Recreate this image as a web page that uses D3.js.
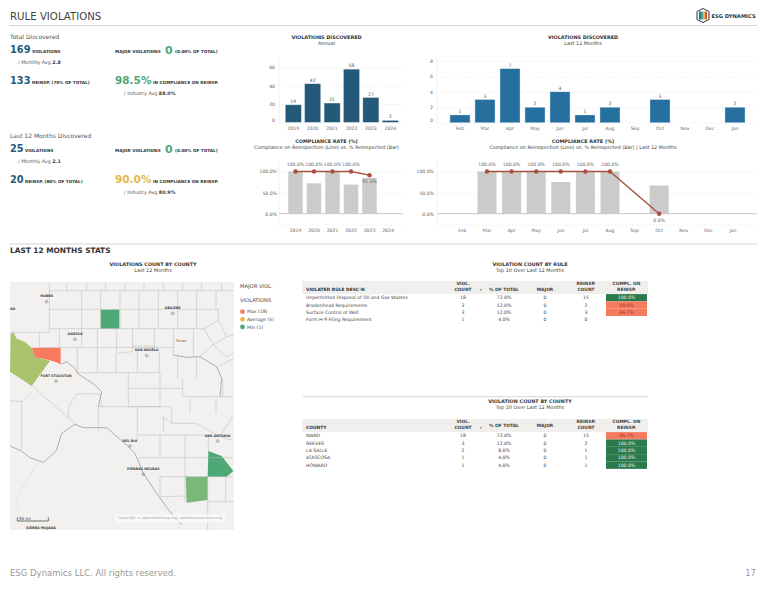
<!DOCTYPE html>
<html>
<head>
<meta charset="utf-8">
<script src="https://cdn.jsdelivr.net/npm/d3@7"></script>
<style>
html, body { margin: 0; padding: 0; background: #fff; }
svg { display: block; }
text { font-family: "DejaVu Sans", sans-serif; }
.axis path, .axis line { stroke: none; }
.axis text { fill: #666; font-size: 4.6px; }
.grid line { stroke: #e4e4e4; stroke-width: .6; stroke-dasharray: 1.5 1.5; }
.grid path { stroke: none; }
</style>
</head>
<body>
<script>
var years = [ "2019", "2020", "2021", "2022", "2023", "2024" ];
var yearViolations = [ 19, 42, 21, 58, 27, 2 ];
var yearReinspected = [ 100, 72, 100, 69, 85, 0 ];
var yearCompliance = [ 100, 100, 100, 100, 91.3, null ];

var months = [ "Feb", "Mar", "Apr", "May", "Jun", "Jul", "Aug", "Sep", "Oct", "Nov", "Dec", "Jan" ];
var monthViolations = [ 1, 3, 7, 2, 4, 1, 2, 0, 3, 0, 0, 2 ];
var monthReinspected = [ 0, 100, 100, 100, 75, 100, 100, 0, 67, 0, 0, 0 ];
var monthCompliance = [ null, 100, 100, 100, 100, 100, 100, null, 0, null, null, null ];

var tableCols = [ "VIOL.|COUNT", "% OF TOTAL", "MAJOR", "REINSP.|COUNT", "COMPL. ON|REINSP." ];
var ruleRows = [
	[ "Unpermitted Disposal of Oil and Gas Wastes", "18", "72.0%", "0", "15", "100.0%" ],
	[ "Bradenhead Requirements", "3", "12.0%", "0", "2", "50.0%" ],
	[ "Surface Control of Well", "3", "12.0%", "0", "3", "66.7%" ],
	[ "Form H-9 Filing Requirement", "1", "4.0%", "0", "0", "" ]
];
var countyRows = [
	[ "WARD", "18", "72.0%", "0", "15", "86.7%" ],
	[ "REEVES", "3", "12.0%", "0", "2", "100.0%" ],
	[ "LA SALLE", "2", "8.0%", "0", "1", "100.0%" ],
	[ "ATASCOSA", "1", "4.0%", "0", "1", "100.0%" ],
	[ "HOWARD", "1", "4.0%", "0", "1", "100.0%" ]
];

// map geometry, in map units (3 units to a pixel)
var countyFills = [
	{ name: "Reeves", color: "#a9c46c", pts: [ [40,277],[50,296],[75,306],[96,325],[105,352],[150,362],[95,438],[30,395],[32,283] ] },
	{ name: "Ward", color: "#f97b5f", pts: [ [95,323],[182,323],[182,373],[165,365],[150,361],[105,352] ] },
	{ name: "Howard", color: "#4fa977", pts: [ [302,209],[358,209],[358,266],[302,266] ] },
	{ name: "Atascosa", color: "#4fa977", pts: [ [625,633],[665,648],[700,693],[680,710],[623,710] ] },
	{ name: "La Salle", color: "#7ab77a", pts: [ [557,710],[623,710],[623,780],[560,788] ] }
];
var countyLines = [
	[[148,128],[148,277],[30,277]], [[148,152],[702,152]], [[148,208],[655,208]], [[148,266],[612,266]],
	[[200,128],[200,152]], [[260,128],[260,152]], [[317,128],[317,152]], [[375,128],[375,152]], [[432,128],[432,152]],
	[[490,128],[490,152]], [[548,128],[548,152]], [[605,128],[605,152]], [[665,128],[665,152]],
	[[245,152],[245,322]], [[302,152],[302,266]], [[360,152],[360,266]], [[417,152],[417,266]], [[475,152],[475,266]],
	[[533,152],[533,266]], [[590,152],[590,266]], [[648,152],[648,208]], [[655,208],[655,240],[612,266]],
	[[118,277],[118,323]], [[178,266],[178,323]], [[292,266],[292,322]], [[350,266],[350,335]], [[398,266],[398,320]],
	[[463,266],[463,335]], [[520,266],[520,345]], [[580,266],[580,350]], [[612,266],[640,315],[600,348]], [[655,240],[680,290],[640,315]],
	[[640,315],[680,350],[702,340]], [[655,380],[702,355]], [[680,290],[702,285]],
	[[118,323],[520,322]], [[232,323],[232,400]], [[292,322],[292,395]], [[348,340],[398,335],[398,318],[463,318]],
	[[348,340],[348,398]], [[412,335],[412,398]], [[478,335],[478,398]], [[533,345],[533,415]], [[590,350],[590,415]],
	[[232,398],[478,398]], [[385,398],[385,500]], [[480,398],[480,500]], [[548,415],[548,470]], [[668,415],[668,470]],
	[[385,445],[545,445]], [[548,470],[700,470]], [[570,475],[570,520]], [[648,475],[648,520]],
	[[385,500],[480,500]], [[205,500],[230,462],[300,462],[305,500]], [[205,500],[205,535]], [[295,500],[295,570]],
	[[30,482],[65,485],[65,630]], [[65,485],[95,455]], [[95,438],[230,553]], [[295,500],[515,500]], [[412,500],[412,600]],
	[[515,500],[515,550],[490,530],[490,575]], [[515,550],[590,550],[625,570]], [[415,585],[480,585],[480,655]],
	[[480,585],[625,585]], [[555,585],[555,785]], [[415,653],[700,653]], [[480,710],[700,710]], [[623,710],[623,870]],
	[[480,710],[480,770],[560,768]], [[625,585],[625,633]],
	[[677,710],[677,785]], [[623,785],[702,785]], [[625,570],[660,590],[695,600]], [[660,590],[700,525]]
];
var riverLines = [
	[[182,373],[200,365],[225,385],[232,400],[285,435],[305,455],[295,500]],
	[[520,345],[560,352],[600,350],[650,380],[665,415],[660,470]],
	[[30,618],[65,633],[90,653],[130,667],[150,650],[170,630],[185,580],[225,553],[250,563],[320,563],[345,585],[380,615],[405,640],[430,700],[470,760],[510,815],[545,855]]
];
var borderLines = [ [[40,277],[30,280]], [[120,660],[80,720],[50,780],[60,850]] ];
var mapPlaces = [
	{ name: "HOBBS", x: 140, y: 170 }, { name: "ABILENE", x: 518, y: 205 }, { name: "ODESSA", x: 225, y: 283 },
	{ name: "SAN ANGELO", x: 440, y: 332 }, { name: "FORT STOCKTON", x: 168, y: 408 }, { name: "DEL RIO", x: 390, y: 603 },
	{ name: "SAN ANTONIO", x: 653, y: 588 }, { name: "PIEDRAS NEGRAS", x: 430, y: 688 }
];
var legendItems = [
	{ label: "Max (18)", color: "#f97b5f" },
	{ label: "Average (5)", color: "#e5b84e" },
	{ label: "Min (1)", color: "#4fa977" }
];
var logoStripes = [ "#2b6f9d", "#4fa977", "#e5b84e", "#d9553f" ];

var svg = d3.select( "body" ).append( "svg" ).attr( "width", 768 ).attr( "height", 589 );

function label( g, str, x, y, size, opts ){
	opts = opts || {};
	return g.append( "text" )
		.attr( "x", x ).attr( "y", y )
		.attr( "font-size", size )
		.attr( "font-weight", opts.bold ? "bold" : null )
		.attr( "text-anchor", opts.anchor || "start" )
		.attr( "fill", opts.color || "#333" )
		.text( str );
}

function rule( y, x0, x1, h ){
	svg.append( "rect" ).attr( "x", x0 ).attr( "y", y ).attr( "width", x1 - x0 ).attr( "height", h ).attr( "fill", "#cfcfcf" );
}

label( svg, "RULE VIOLATIONS", 10, 20, 10.2, { color: "#444" } );
rule( 25, 9, 757, .9 );
rule( 243.5, 9, 757, .9 );
label( svg, "LAST 12 MONTHS STATS", 10, 252.5, 7.4, { bold: true, color: "#333" } );

// KPI block
function kpis( top, o ){
	var blue = "#25597a";
	label( svg, o.heading, 10, top, 6, { color: "#555" } );
	label( svg, o.count, 10, top + 14, 9.8, { bold: true, color: blue } );
	label( svg, "VIOLATIONS", o.tx, top + 13.5, 4.2, { bold: true } );
	svg.append( "text" ).attr( "x", 18 ).attr( "y", top + 25 ).attr( "font-size", 4.8 ).attr( "fill", "#555" )
		.text( "/ Monthly Avg " ).append( "tspan" ).attr( "font-weight", "bold" ).attr( "fill", "#333" ).text( o.avg );
	label( svg, o.reinsp, 10, top + 45, 9.8, { bold: true, color: blue } );
	label( svg, o.reinspText, o.tx, top + 44.5, 4.2, { bold: true } );
	label( svg, "MAJOR VIOLATIONS", 115, top + 13.5, 4.2, { bold: true } );
	label( svg, "0", 165, top + 14.5, 11, { bold: true, color: "#4fa977" } );
	label( svg, "(0.00% OF TOTAL)", 175, top + 13.5, 4.2, { bold: true } );
	label( svg, o.rate, 115, top + 45, 10.5, { bold: true, color: o.rateColor } );
	label( svg, "IN COMPLIANCE ON REINSP.", 153, top + 44.5, 4.2, { bold: true } );
	svg.append( "text" ).attr( "x", 124 ).attr( "y", top + 56 ).attr( "font-size", 4.8 ).attr( "fill", "#555" )
		.text( "/ Industry Avg " ).append( "tspan" ).attr( "font-weight", "bold" ).attr( "fill", "#333" ).text( o.industry );
}
kpis( 39, { heading: "Total Discovered", count: "169", tx: 32, avg: "2.8", reinsp: "133", reinspText: "REINSP. (79% OF TOTAL)", rate: "98.5%", rateColor: "#4fa977", industry: "88.0%" } );
kpis( 138, { heading: "Last 12 Months Discovered", count: "25", tx: 25, avg: "2.1", reinsp: "20", reinspText: "REINSP. (80% OF TOTAL)", rate: "90.0%", rateColor: "#e5b84e", industry: "80.9%" } );

function titles( cx, y, a, b ){
	label( svg, a, cx, y, 4.9, { bold: true, anchor: "middle" } );
	label( svg, b, cx, y + 6, 4.9, { anchor: "middle", color: "#444" } );
}

function band( cats, first, step, bw ){
	// point-like band scale placed from the first category centre
	return d3.scaleBand().domain( cats )
		.range( [ first - step / 2, first - step / 2 + step * cats.length ] )
		.paddingInner( 1 - bw / step ).paddingOuter( ( 1 - bw / step ) / 2 );
}

function countChart( o ){
	var x = band( o.cats, o.first, o.step, o.bw );
	var y = d3.scaleLinear().domain( [ 0, o.max ] ).range( [ o.y0, o.yMax ] );
	var g = svg.append( "g" );
	g.append( "g" ).attr( "class", "grid" ).attr( "transform", "translate(" + o.x0 + ",0)" )
		.call( d3.axisLeft( y ).tickValues( o.ticks ).tickSize( o.x0 - o.x1 ).tickFormat( "" ) );
	g.append( "line" ).attr( "x1", o.x0 ).attr( "x2", o.x0 ).attr( "y1", o.top ).attr( "y2", o.y0 + 1 ).attr( "stroke", "#e8e8e8" ).attr( "stroke-width", .6 );
	g.selectAll( ".bar" ).data( o.values ).join( "rect" )
		.attr( "x", ( d, i ) => x( o.cats[ i ] ) ).attr( "width", x.bandwidth() )
		.attr( "y", d => y( d ) ).attr( "height", d => y( 0 ) - y( d ) )
		.attr( "fill", o.color ).attr( "stroke", "#cddbe5" ).attr( "stroke-width", d => d ? .4 : 0 );
	g.selectAll( ".val" ).data( o.values ).join( "text" )
		.attr( "x", ( d, i ) => x( o.cats[ i ] ) + x.bandwidth() / 2 ).attr( "y", d => y( d ) - 2 )
		.attr( "text-anchor", "middle" ).attr( "font-size", 4.6 ).attr( "fill", "#555" )
		.text( d => d === 0 ? "" : d );
	g.append( "g" ).attr( "class", "axis" ).attr( "transform", "translate(" + ( o.x0 - 1 ) + ",0)" )
		.call( d3.axisLeft( y ).tickValues( o.ticks ).tickSize( 0 ).tickPadding( 3 ) )
		.selectAll( "text" ).filter( d => d === 0 ).attr( "dy", "-.25em" );
	g.append( "g" ).attr( "class", "axis" ).attr( "transform", "translate(0," + o.axisY + ")" )
		.call( d3.axisBottom( x ).tickSize( 0 ).tickPadding( 2 ) );
}

function rateChart( o ){
	var x = band( o.cats, o.first, o.step, o.bw );
	var y = d3.scaleLinear().domain( [ 0, 100 ] ).range( [ 213.7, 171.5 ] );
	var cx = c => x( c ) + x.bandwidth() / 2;
	var g = svg.append( "g" );
	g.append( "g" ).attr( "class", "grid" ).attr( "transform", "translate(" + o.x0 + ",0)" )
		.call( d3.axisLeft( y ).tickValues( [ 50, 100 ] ).tickSize( o.x0 - o.x1 ).tickFormat( "" ) );
	g.append( "line" ).attr( "x1", o.x0 ).attr( "x2", o.x0 ).attr( "y1", 160 ).attr( "y2", 225 ).attr( "stroke", "#e8e8e8" ).attr( "stroke-width", .6 );
	g.append( "line" ).attr( "x1", o.x0 ).attr( "x2", o.x1 ).attr( "y1", 225 ).attr( "y2", 225 ).attr( "stroke", "#e8e8e8" ).attr( "stroke-width", .6 ).attr( "stroke-dasharray", "1.5 1.5" );
	g.selectAll( ".bar" ).data( o.bars ).join( "rect" )
		.attr( "x", ( d, i ) => x( o.cats[ i ] ) ).attr( "width", x.bandwidth() )
		.attr( "y", d => y( d ) ).attr( "height", d => y( 0 ) - y( d ) )
		.attr( "fill", "#cbcbc9" );
	g.append( "line" ).attr( "x1", o.x0 ).attr( "x2", o.x1 ).attr( "y1", y( 0 ) ).attr( "y2", y( 0 ) ).attr( "stroke", "#c8c8c8" ).attr( "stroke-width", 1 );
	var pts = o.cats.map( ( c, i ) => ( { c: c, v: o.line[ i ] } ) ).filter( d => d.v !== null );
	g.append( "path" ).datum( pts )
		.attr( "fill", "none" ).attr( "stroke", "#a94f3f" ).attr( "stroke-width", 1.3 )
		.attr( "d", d3.line().x( d => cx( d.c ) ).y( d => y( d.v ) ) );
	g.selectAll( ".pt" ).data( pts ).join( "circle" )
		.attr( "cx", d => cx( d.c ) ).attr( "cy", d => y( d.v ) ).attr( "r", 2.2 ).attr( "fill", "#a94f3f" );
	g.selectAll( ".val" ).data( pts ).join( "text" )
		.attr( "x", d => cx( d.c ) ).attr( "y", d => d.v === 100 ? y( d.v ) - 6 : y( d.v ) + 8 )
		.attr( "text-anchor", "middle" ).attr( "font-size", 4.6 ).attr( "fill", "#666" )
		.text( d => d.v.toFixed( 1 ) + "%" );
	g.append( "g" ).attr( "class", "axis" ).attr( "transform", "translate(" + o.tickX + ",0)" )
		.call( d3.axisLeft( y ).tickValues( [ 0, 50, 100 ] ).tickSize( 0 ).tickPadding( 0 ).tickFormat( d => d.toFixed( 1 ) + "%" ) );
	g.append( "g" ).attr( "class", "axis" ).attr( "transform", "translate(0,226.5)" )
		.call( d3.axisBottom( x ).tickSize( 0 ).tickPadding( 2 ) );
}

titles( 326.5, 39, "VIOLATIONS DISCOVERED", "Annual" );
countChart( { cats: years, values: yearViolations, first: 293.3, step: 19.4, bw: 16, max: 60, ticks: [ 0, 20, 40, 60 ], y0: 122.3, yMax: 67.3, x0: 279, x1: 403, top: 56, axisY: 125, color: "#25597a" } );
titles( 326.5, 143, "COMPLIANCE RATE (%)", "Compliance on Reinspection (Line) vs. % Reinspected (Bar)" );
rateChart( { cats: years, bars: yearReinspected, line: yearCompliance, first: 295.5, step: 18.5, bw: 14.5, x0: 279, x1: 403, tickX: 277 } );

titles( 583, 39, "VIOLATIONS DISCOVERED", "Last 12 Months" );
countChart( { cats: months, values: monthViolations, first: 460, step: 25, bw: 20, max: 8, ticks: [ 0, 2, 4, 6, 8 ], y0: 122.7, yMax: 61, x0: 437, x1: 757, top: 56, axisY: 124.5, color: "#25709f" } );
titles( 583, 143, "COMPLIANCE RATE (%)", "Compliance on Reinspection (Line) vs. % Reinspected (Bar) | Last 12 Months" );
rateChart( { cats: months, bars: monthReinspected, line: monthCompliance, first: 462.4, step: 24.6, bw: 19, x0: 437, x1: 757, tickX: 434 } );

// map
titles( 153, 266, "VIOLATIONS COUNT BY COUNTY", "Last 12 Months" );
var mapX = d3.scaleLinear().domain( [ 0, 870 ] ).range( [ 0, 290 ] );
var mapY = d3.scaleLinear().domain( [ 0, 870 ] ).range( [ 240, 530 ] );
var mapLine = d3.line().x( d => mapX( d[ 0 ] ) ).y( d => mapY( d[ 1 ] ) );
svg.append( "clipPath" ).attr( "id", "mapClip" ).append( "rect" )
	.attr( "x", 10 ).attr( "y", 282 ).attr( "width", 224 ).attr( "height", 248 );
var map = svg.append( "g" ).attr( "clip-path", "url(#mapClip)" );
map.append( "rect" ).attr( "x", 10 ).attr( "y", 282 ).attr( "width", 224 ).attr( "height", 248 ).attr( "fill", "#f2f1ef" );
map.selectAll( ".fill" ).data( countyFills ).join( "path" )
	.attr( "d", d => mapLine( d.pts ) + "Z" ).attr( "fill", d => d.color );
map.selectAll( ".county" ).data( countyLines ).join( "path" )
	.attr( "d", mapLine ).attr( "fill", "none" ).attr( "stroke", "#b8b8b8" ).attr( "stroke-width", .5 );
map.selectAll( ".river" ).data( riverLines ).join( "path" )
	.attr( "d", mapLine ).attr( "fill", "none" ).attr( "stroke", "#909090" ).attr( "stroke-width", .7 );
map.selectAll( ".border" ).data( borderLines ).join( "path" )
	.attr( "d", mapLine ).attr( "fill", "none" ).attr( "stroke", "#bbb" ).attr( "stroke-width", .5 ).attr( "stroke-dasharray", "1 1" );
mapPlaces.forEach( p => {
	label( map, p.name, mapX( p.x ), mapY( p.y ) + .8, 3.3, { bold: true, anchor: "middle", color: "#444" } );
	map.append( "circle" ).attr( "cx", mapX( p.x ) ).attr( "cy", mapY( p.y + 15 ) ).attr( "r", 1.4 ).attr( "fill", "none" ).attr( "stroke", "#666" ).attr( "stroke-width", .4 );
	map.append( "circle" ).attr( "cx", mapX( p.x ) ).attr( "cy", mapY( p.y + 15 ) ).attr( "r", .5 ).attr( "fill", "#666" );
} );
label( map, "AD", mapX( 38 ), mapY( 207 ) + 1, 3.3, { bold: true, anchor: "middle", color: "#444" } );
label( map, "Texas", mapX( 543 ), mapY( 300 ) + 1.5, 3.8, { anchor: "middle", color: "#8a5a2b" } );
label( map, "SIERRA MOJADA", mapX( 123 ), mapY( 865 ) + 1, 3.3, { bold: true, anchor: "middle", color: "#444" } );
map.append( "rect" ).attr( "x", mapX( 345 ) ).attr( "y", mapY( 823 ) ).attr( "width", 110 ).attr( "height", 8 ).attr( "fill", "#fafafa" ).attr( "opacity", .8 );
label( map, "Copyright \u00a9 openstreetmap.org, opendatacommons.org", mapX( 510 ), mapY( 838 ), 3.7, { anchor: "middle", color: "#aaa" } );
map.append( "path" ).attr( "d", mapLine( [ [52,832],[52,843],[145,843],[145,832] ] ) ).attr( "fill", "none" ).attr( "stroke", "#333" ).attr( "stroke-width", .7 );
label( map, "50 mi", mapX( 58 ), mapY( 840 ), 4, { color: "#333" } );

// legend
label( svg, "MAJOR VIOL.", 240, 288, 5.2, { color: "#444" } );
label( svg, "VIOLATIONS", 240, 302, 5.2, { color: "#444" } );
legendItems.forEach( ( d, i ) => {
	svg.append( "circle" ).attr( "cx", 242.5 ).attr( "cy", 311.7 + i * 7.6 ).attr( "r", 2.4 ).attr( "fill", d.color );
	label( svg, d.label, 247, 313.4 + i * 7.6, 4.6, { color: "#444" } );
} );

// tables
var colX = [ 463, 504, 545, 586, 626.5 ];
function table( o ){
	svg.append( "rect" ).attr( "x", 302 ).attr( "y", o.bgTop ).attr( "width", 346 ).attr( "height", 13 ).attr( "fill", "#f0efed" );
	label( svg, o.head, 306, o.bgTop + 9.5, 4.4, { bold: true } );
	tableCols.forEach( ( c, i ) => {
		var parts = c.split( "|" );
		parts.forEach( ( p, j ) => label( svg, p, colX[ i ], o.bgTop + ( parts.length > 1 ? 4 + j * 5.6 : o.oneLine ), 4.4, { bold: true, anchor: "middle", color: "#444" } ) );
	} );
	label( svg, "\u25be", 481, o.bgTop + 9.8, 3.6, { anchor: "middle", color: "#555" } );
	o.rows.forEach( ( r, i ) => {
		var y = o.rowY + i * o.rowStep;
		if ( r[ 5 ] ) {
			svg.append( "rect" ).attr( "x", 606 ).attr( "y", y - 3.7 ).attr( "width", 41 ).attr( "height", o.rowStep )
				.attr( "fill", r[ 5 ] === "100.0%" ? "#2a7a4e" : "#f97b5f" );
		}
		label( svg, r[ 0 ], 306, y + 1.6, 4.6, { color: "#444" } );
		colX.forEach( ( x, j ) => label( svg, r[ j + 1 ], x, y + 1.6, 4.6, { anchor: "middle", color: j === 4 ? ( r[ 5 ] === "100.0%" ? "#e8f0ea" : "#8c3a2c" ) : "#444" } ) );
	} );
}
titles( 530, 266, "VIOLATION COUNT BY RULE", "Top 10 Over Last 12 Months" );
table( { head: "VIOLATED RULE DESC-N", rows: ruleRows, bgTop: 281, rowY: 297.8, rowStep: 7.3, oneLine: 9.5 } );
rule( 396.3, 303, 648, .9 );
titles( 530, 403, "VIOLATION COUNT BY COUNTY", "Top 10 Over Last 12 Months" );
table( { head: "COUNTY", rows: countyRows, bgTop: 419, rowY: 435.8, rowStep: 7.35, oneLine: 7.5 } );

// logo
var logo = svg.append( "g" );
logo.append( "path" ).attr( "d", d3.line()( [ [703,8.5],[709,11.5],[709,19.5],[703,22.5],[697,19.5],[697,11.5] ] ) + "Z" )
	.attr( "fill", "#fff" ).attr( "stroke", "#333" ).attr( "stroke-width", 1 );
logoStripes.forEach( ( c, i ) => {
	logo.append( "rect" ).attr( "x", 699 + i * 2 ).attr( "y", 11.5 ).attr( "width", 2 ).attr( "height", 8 ).attr( "fill", c );
} );
label( logo, "ESG DYNAMICS", 711.5, 17.5, 5.2, { bold: true, color: "#333" } );

// footer
label( svg, "ESG Dynamics LLC. All rights reserved.", 10, 576, 8.5, { color: "#999" } );
label( svg, "17", 756, 576, 8.5, { anchor: "end", color: "#999" } );
</script>
</body>
</html>
